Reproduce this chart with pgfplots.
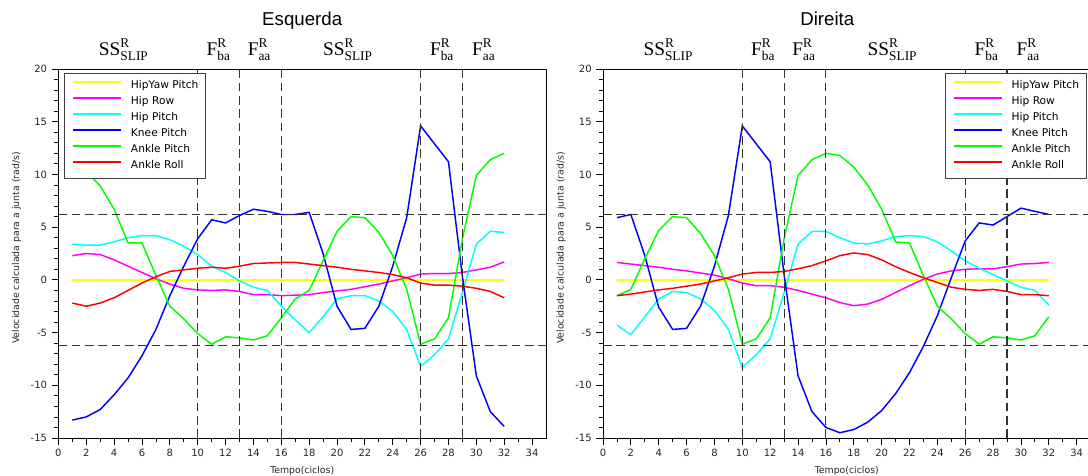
\documentclass[border=0pt]{standalone}
\usepackage{pgfplots}
\pgfplotsset{compat=1.18}
\usepackage{pgfplotstable}
\usepackage{fontspec}
\setmainfont{DejaVu Sans}
\newfontfamily\titlefont{Liberation Sans}
\newfontfamily\tnr{Liberation Serif}

\definecolor{cAmarelo}{RGB}{255,255,0}
\definecolor{cMagenta}{RGB}{255,0,255}
\definecolor{cCiano}{RGB}{0,255,255}
\definecolor{cAzul}{RGB}{0,0,255}
\definecolor{cVerde}{RGB}{0,255,0}
\definecolor{cVermelho}{RGB}{255,0,0}

% fase: nome, expoente, indice
\newcommand\fase[3]{{\fontsize{14.5}{16}\selectfont$\hbox{\tnr #1}^{\hbox{\tnr\fontsize{10}{11}\selectfont #2}}_{\hbox{\tnr\fontsize{10}{11}\selectfont #3}}$}}

% x hy=HipYaw Pitch, hr=Hip Row, hp=Hip Pitch, kp=Knee Pitch, ap=Ankle Pitch, ar=Ankle Roll
\pgfplotstableread{
x  hy  hr    hp    kp     ap    ar
1  0   2.3   3.4   -13.3  11.5  -2.2
2  0   2.5   3.3   -13.0  10.3  -2.5
3  0   2.4   3.3   -12.3  8.9   -2.2
4  0   1.9   3.6   -10.9  6.7   -1.7
5  0   1.3   4.0   -9.3   3.5   -1.0
6  0   0.7   4.2   -7.2   3.5   -0.3
7  0   0.1   4.2   -4.7   0.4   0.3
8  0   -0.4  3.8   -1.5   -2.5  0.8
9  0   -0.8  3.2   1.3    -3.7  0.95
10 0   -0.95 2.4   3.9    -5.1  1.1
11 0   -1.0  1.3   5.7    -6.1  1.2
12 0   -0.95 0.7   5.4    -5.4  1.1
13 0   -1.1  -0.1  6.1    -5.5  1.3
14 0   -1.4  -0.7  6.7    -5.7  1.55
15 0   -1.4  -1.0  6.5    -5.3  1.6
16 0   -1.5  -2.5  6.2    -3.6  1.65
17 0   -1.45 -3.8  6.2    -1.8  1.65
18 0   -1.4  -5.0  6.4    -1.0  1.5
19 0   -1.2  -3.5  2.5    1.8   1.35
20 0   -1.05 -1.8  -2.5   4.6   1.2
21 0   -0.9  -1.5  -4.7   6.0   1.0
22 0   -0.65 -1.5  -4.6   5.9   0.85
23 0   -0.4  -2.0  -2.5   4.5   0.7
24 0   -0.1  -3.0  1.3    2.3   0.5
25 0   0.2   -4.7  5.9    -0.9  0.2
26 0   0.55  -8.2  14.6   -6.1  -0.3
27 0   0.6   -7.1  12.9   -5.6  -0.5
28 0   0.6   -5.6  11.2   -3.6  -0.5
29 0   0.7   -1.2  0.3    3.9   -0.6
30 0   0.95  3.4   -9.1   9.9   -0.8
31 0   1.2   4.6   -12.5  11.4  -1.1
32 0   1.7   4.5   -13.9  12.0  -1.7
}\esquerda

\pgfplotstableread{
x  hy  hr    hp    kp     ap    ar
1  0   1.65  -4.3  5.9    -1.5  -1.5
2  0   1.5   -5.2  6.2    -0.9  -1.35
3  0   1.35  -3.5  2.3    2.0   -1.15
4  0   1.2   -1.8  -2.6   4.7   -0.95
5  0   1.0   -1.1  -4.7   6.0   -0.8
6  0   0.85  -1.2  -4.6   5.9   -0.6
7  0   0.65  -1.8  -2.5   4.4   -0.4
8  0   0.45  -2.9  1.3    2.3   -0.1
9  0   0.1   -4.7  6.1    -0.9  0.2
10 0   -0.3  -8.3  14.6   -6.1  0.55
11 0   -0.55 -7.1  12.9   -5.6  0.7
12 0   -0.55 -5.6  11.2   -3.6  0.7
13 0   -0.7  -1.2  0.5    3.9   0.8
14 0   -1.0  3.4   -9.1   9.9   1.05
15 0   -1.35 4.6   -12.5  11.4  1.35
16 0   -1.7  4.6   -14.0  12.0  1.8
17 0   -2.15 4.0   -14.5  11.8  2.3
18 0   -2.45 3.5   -14.2  10.7  2.55
19 0   -2.3  3.4   -13.5  9.0   2.4
20 0   -1.85 3.7   -12.4  6.7   1.9
21 0   -1.2  4.1   -10.8  3.6   1.25
22 0   -0.55 4.2   -8.8   3.5   0.7
23 0   0.05  4.1   -6.3   0.4   0.2
24 0   0.55  3.6   -3.4   -2.5  -0.25
25 0   0.85  2.75  0.2    -3.7  -0.7
26 0   1.0   1.8   3.7    -5.1  -0.9
27 0   1.05  1.1   5.4    -6.1  -1.0
28 0   1.05  0.5   5.2    -5.4  -0.9
29 0   1.25  -0.1  6.0    -5.5  -1.1
30 0   1.5   -0.7  6.8    -5.7  -1.4
31 0   1.55  -1.0  6.5    -5.3  -1.4
32 0   1.65  -2.4  6.2    -3.5  -1.5
}\direita

\pgfplotsset{
  painel/.style={
    scale only axis,
    width=365.7pt, height=276.75pt,
    xmin=0, xmax=35, ymin=-15, ymax=20,
    xtick={0,2,...,34}, minor x tick num=1,
    ytick={-15,-10,...,20}, minor y tick num=4,
    tick pos=left, tick align=outside,
    major tick length=5pt, minor tick length=3pt,
    every tick/.style={black, line width=0.6pt},
    axis line style={line width=0.75pt},
    /pgf/number format/assume math mode=true,
    tick label style={font=\fontsize{7.5}{9}\selectfont, black!85},
    xlabel={Tempo(ciclos)},
    ylabel={Velocidade calculada para a junta (rad/s)},
    label style={font=\fontsize{7}{8}\selectfont, black!85},
    xlabel style={at={(axis description cs:0.5,0)}, anchor=north, yshift=-18pt},
    ylabel style={at={(axis description cs:-0.086,0.515)}, anchor=center},
    clip=false,
    legend cell align=left,
    legend image code/.code={\draw[##1, line width=1.5pt] (0pt,2.8pt) -- (36pt,2.8pt);},
    legend style={font=\fontsize{8}{9}\selectfont, draw=black!75, line width=0.75pt,
      inner xsep=5.6pt, inner ysep=5.75pt, row sep=4.5pt, column sep=6.75pt,
      nodes={inner sep=0pt, text height=6pt, text depth=1.5pt}},
    every axis plot/.append style={line width=1.1pt},
  },
  guia/.style={black!80, line width=0.8pt, dash pattern=on 6.5pt off 3.5pt, forget plot},
}

\newcommand\curvas[1]{%
  \addplot[cAmarelo] table[x=x,y=hy] {#1};
  \addplot[cMagenta] table[x=x,y=hr] {#1};
  \addplot[cCiano] table[x=x,y=hp] {#1};
  \addplot[cAzul] table[x=x,y=kp] {#1};
  \addplot[cVerde] table[x=x,y=ap] {#1};
  \addplot[cVermelho] table[x=x,y=ar] {#1};
  \addplot[guia] coordinates {(0,6.2) (35,6.2)};
  \addplot[guia] coordinates {(0,-6.2) (35,-6.2)};
  \addplot[guia] coordinates {(10,-15) (10,20)};
  \addplot[guia] coordinates {(13,-15) (13,20)};
  \addplot[guia] coordinates {(16,-15) (16,20)};
  \addplot[guia] coordinates {(26,-15) (26,20)};
  \addplot[guia] coordinates {(29,-15) (29,20)};
  \legend{HipYaw Pitch,Hip Row,Hip Pitch,Knee Pitch,Ankle Pitch,Ankle Roll}
  \node[anchor=base] at (axis cs:4.69,21.28) {\fase{SS}{R}{SLIP}};
  \node[anchor=base] at (axis cs:11.5,21.28) {\fase{F}{R}{ba}};
  \node[anchor=base] at (axis cs:14.43,21.28) {\fase{F}{R}{aa}};
  \node[anchor=base] at (axis cs:20.78,21.28) {\fase{SS}{R}{SLIP}};
  \node[anchor=base] at (axis cs:27.54,21.28) {\fase{F}{R}{ba}};
  \node[anchor=base] at (axis cs:30.53,21.28) {\fase{F}{R}{aa}};
}

\begin{document}
\begin{tikzpicture}
\begin{axis}[painel,
  legend style={at={(0.0115,0.99)}, anchor=north west}]
  \curvas{\esquerda}
  \node[anchor=base, font=\titlefont\fontsize{14}{16}\selectfont] at (axis cs:17.5,24.09) {Esquerda};
\end{axis}
\begin{axis}[painel, at={(408.45pt,0pt)},
  legend style={at={(0.9926,0.99)}, anchor=north east}]
  \curvas{\direita}
  \node[anchor=base, font=\titlefont\fontsize{14}{16}\selectfont] at (axis cs:16.1,24.09) {Direita};
\end{axis}
\pgfresetboundingbox
\path[use as bounding box] (-43.8pt,-27.75pt) rectangle (772.2pt,328.5pt);
\end{tikzpicture}
\end{document}
